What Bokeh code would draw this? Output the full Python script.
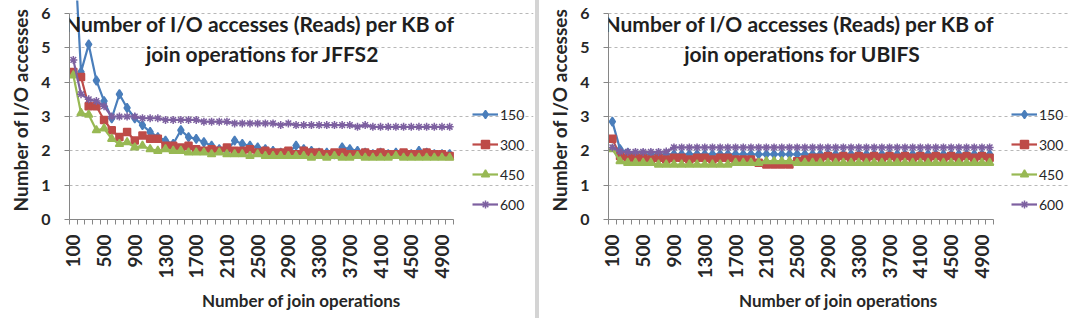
from math import pi
from bokeh.plotting import figure
from bokeh.models import (FixedTicker, Legend, LegendItem, Label, Range1d, Div)
from bokeh.layouts import row
from bokeh.embed import file_html
from bokeh.resources import INLINE

joins = list(range(100, 5001, 100))
tick_labels = [100, 500, 900, 1300, 1700, 2100, 2500, 2900, 3300, 3700, 4100, 4500, 4900]
series_names = ["150", "300", "450", "600"]

jffs2_150 = [8.5, 4.3, 5.1, 4.05, 3.45, 2.95, 3.65, 3.25, 2.95, 2.75, 2.55, 2.4, 2.3, 2.2, 2.6, 2.4,
             2.35, 2.25, 2.15, 2.05, 2.0, 2.3, 2.2, 2.15, 2.1, 2.05, 2.0, 1.95, 1.95, 2.15, 2.05, 2.0,
             1.95, 1.95, 1.9, 2.1, 2.05, 2.0, 1.95, 1.9, 1.95, 1.9, 1.95, 1.9, 1.9, 2.0, 1.95, 1.9,
             1.9, 1.9]
jffs2_300 = [4.3, 4.15, 3.3, 3.3, 2.9, 2.6, 2.4, 2.55, 2.3, 2.45, 2.35, 2.35, 2.15, 2.15, 2.1, 2.15,
             2.05, 2.0, 2.05, 2.0, 2.1, 2.0, 2.0, 2.05, 1.95, 2.0, 1.95, 1.95, 2.0, 1.9, 2.0, 1.95,
             1.95, 1.9, 1.95, 1.95, 1.9, 1.9, 1.95, 1.9, 1.95, 1.9, 1.9, 1.95, 1.9, 1.9, 1.95, 1.9,
             1.9, 1.85]
jffs2_450 = [4.2, 3.1, 3.05, 2.6, 2.65, 2.35, 2.2, 2.25, 2.1, 2.15, 2.05, 2.0, 2.05, 2.0, 2.0, 1.95,
             1.95, 1.95, 1.9, 1.95, 1.9, 1.9, 1.9, 1.85, 1.9, 1.85, 1.85, 1.85, 1.85, 1.85, 1.85, 1.8,
             1.85, 1.8, 1.85, 1.8, 1.8, 1.85, 1.8, 1.8, 1.8, 1.8, 1.85, 1.8, 1.8, 1.8, 1.8, 1.8,
             1.8, 1.8]
jffs2_600 = [4.65, 3.65, 3.5, 3.45, 3.3, 3.0, 3.0, 3.0, 3.0, 2.95, 2.95, 2.95, 2.9, 2.9, 2.9, 2.9,
             2.9, 2.85, 2.85, 2.85, 2.85, 2.8, 2.8, 2.8, 2.8, 2.8, 2.8, 2.75, 2.8, 2.75, 2.75, 2.75,
             2.75, 2.75, 2.75, 2.75, 2.75, 2.7, 2.75, 2.7, 2.7, 2.7, 2.7, 2.7, 2.7, 2.7, 2.7, 2.7,
             2.7, 2.7]

ubifs_150 = [2.85, 2.05, 1.95, 1.9, 1.9, 1.9, 1.9, 1.9, 1.9, 1.9, 1.9, 1.9, 1.9, 1.9, 1.9, 1.9,
             1.9, 1.9, 1.9, 1.9, 1.9, 1.9, 1.9, 1.9, 1.9, 1.9, 1.9, 1.9, 1.9, 1.9, 1.9, 1.9,
             1.9, 1.9, 1.9, 1.9, 1.9, 1.9, 1.9, 1.9, 1.9, 1.9, 1.9, 1.9, 1.9, 1.9, 1.9, 1.9,
             1.9, 1.9]
ubifs_300 = [2.35, 1.85, 1.8, 1.8, 1.8, 1.75, 1.8, 1.75, 1.8, 1.8, 1.75, 1.8, 1.8, 1.75, 1.8, 1.8,
             1.75, 1.75, 1.75, 1.65, 1.6, 1.6, 1.6, 1.6, 1.7, 1.75, 1.8, 1.8, 1.85, 1.8, 1.85, 1.8,
             1.85, 1.8, 1.85, 1.8, 1.85, 1.8, 1.85, 1.8, 1.85, 1.8, 1.85, 1.8, 1.85, 1.8, 1.85, 1.8,
             1.85, 1.8]
ubifs_450 = [2.05, 1.7, 1.65, 1.65, 1.65, 1.65, 1.6, 1.6, 1.6, 1.6, 1.6, 1.6, 1.6, 1.6, 1.6, 1.6,
             1.65, 1.65, 1.65, 1.65, 1.7, 1.7, 1.7, 1.7, 1.65, 1.65, 1.65, 1.65, 1.65, 1.65, 1.65, 1.65,
             1.65, 1.65, 1.65, 1.65, 1.65, 1.65, 1.65, 1.65, 1.65, 1.65, 1.65, 1.65, 1.65, 1.65, 1.65, 1.65,
             1.65, 1.65]
ubifs_600 = [2.1, 1.98, 1.97, 1.97, 1.97, 1.97, 1.97, 1.98, 2.1, 2.1, 2.1, 2.1, 2.1, 2.1, 2.1, 2.1,
             2.1, 2.1, 2.1, 2.1, 2.1, 2.1, 2.1, 2.1, 2.1, 2.1, 2.1, 2.1, 2.1, 2.1, 2.1, 2.1,
             2.1, 2.1, 2.1, 2.1, 2.1, 2.1, 2.1, 2.1, 2.1, 2.1, 2.1, 2.1, 2.1, 2.1, 2.1, 2.1,
             2.1, 2.1]

title_jffs2 = ["Number of I/O accesses  (Reads) per KB of", "join operations for JFFS2"]
title_ubifs = ["Number of I/O accesses  (Reads) per KB of", "join operations for UBIFS"]

COLORS = ["#4a7ebb", "#be4b48", "#98b954", "#7d60a0"]
MARKERS = ["diamond", "square", "triangle", "asterisk"]
SIZES = [9, 7, 8, 8]
FONT = "Lato"
TXT = "#262626"

step = joins[1] - joins[0]
bounds = [joins[0] - step / 2 + k * step for k in range(len(joins) + 1)]
span = bounds[-1] - bounds[0]


def make_panel(series, titles, left, fw, ext, legend_x):
    x_end = bounds[-1] + ext * span / fw
    p = figure(frame_width=fw + ext, frame_height=219, output_backend="svg",
               toolbar_location=None,
               x_range=Range1d(bounds[0], x_end), y_range=Range1d(0, 6.38),
               min_border_left=left, min_border_top=0, min_border_bottom=99,
               min_border_right=2)
    p.outline_line_color = None
    p.background_fill_color = "white"
    p.border_fill_color = "white"

    items = []
    for name, ys, c, m, s in zip(series_names, series, COLORS, MARKERS, SIZES):
        r1 = p.line(joins, ys, line_color=c, line_width=2.2)
        r2 = p.scatter(joins, ys, marker=m, size=s, fill_color=c, line_color=c, line_width=1.5)
        items.append(LegendItem(label=name, renderers=[r1, r2]))

    legend = Legend(items=items, location=(legend_x, 5), border_line_color=None,
                    background_fill_alpha=0, label_text_font=FONT,
                    label_text_font_size="14px", label_text_color=TXT,
                    glyph_width=26, glyph_height=20, spacing=10, padding=4,
                    label_standoff=2, margin=0)
    p.add_layout(legend, "center")

    xa = p.xaxis[0]
    xa.ticker = FixedTicker(ticks=tick_labels, minor_ticks=bounds)
    xa.bounds = (bounds[0], bounds[-1])
    xa.major_tick_out = 0
    xa.major_tick_in = 0
    xa.minor_tick_out = 5
    xa.minor_tick_in = 0
    xa.minor_tick_line_color = "#868686"
    xa.axis_line_color = "#868686"
    xa.major_label_orientation = pi / 2
    xa.major_label_text_font = FONT
    xa.major_label_text_font_style = "bold"
    xa.major_label_text_font_size = "19px"
    xa.major_label_text_color = TXT
    xa.major_label_standoff = 10
    xa.axis_label = "Number of join operations"
    xa.axis_label_text_font = FONT
    xa.axis_label_text_font_style = "bold"
    xa.axis_label_text_font_size = "17px"
    xa.axis_label_text_color = TXT
    xa.axis_label_standoff = 8

    ya = p.yaxis[0]
    ya.ticker = FixedTicker(ticks=[0, 1, 2, 3, 4, 5, 6])
    ya.bounds = (0, 6)
    ya.minor_tick_line_color = None
    ya.major_tick_out = 5
    ya.major_tick_in = 0
    ya.major_tick_line_color = "#868686"
    ya.axis_line_color = "#868686"
    ya.major_label_text_font = FONT
    ya.major_label_text_font_style = "bold"
    ya.major_label_text_font_size = "16px"
    ya.major_label_text_color = TXT
    ya.major_label_standoff = 14
    ya.axis_label = "Number of I/O accesses"
    ya.axis_label_text_font = FONT
    ya.axis_label_text_font_style = "bold"
    ya.axis_label_text_font_size = "19px"
    ya.axis_label_text_color = TXT
    ya.axis_label_standoff = 6

    p.xgrid.grid_line_color = None
    p.ygrid.grid_line_color = "#b8b8b8"
    p.ygrid.grid_line_dash = "3 3"
    p.ygrid.bounds = (bounds[0], bounds[-1])

    title_x = bounds[0] + span * 0.503
    for t, yv in zip(titles, [5.72, 4.85]):
        p.add_layout(Label(x=title_x, y=yv, text=t, text_align="center", text_baseline="middle",
                           text_font=FONT, text_font_style="bold", text_font_size="21px",
                           text_color="#1f1f1f"))
    return p


p1 = make_panel([jffs2_150, jffs2_300, jffs2_450, jffs2_600], title_jffs2, 69, 384, 80, 403)
p2 = make_panel([ubifs_150, ubifs_300, ubifs_450, ubifs_600], title_ubifs, 69, 385, 75, 403)
sep = Div(width=4, height=318, margin=0, styles={"background-color": "#d4d4d4"})
layout = row(p1, sep, p2, spacing=0)

open("out.html", "w").write(file_html(layout, INLINE))
